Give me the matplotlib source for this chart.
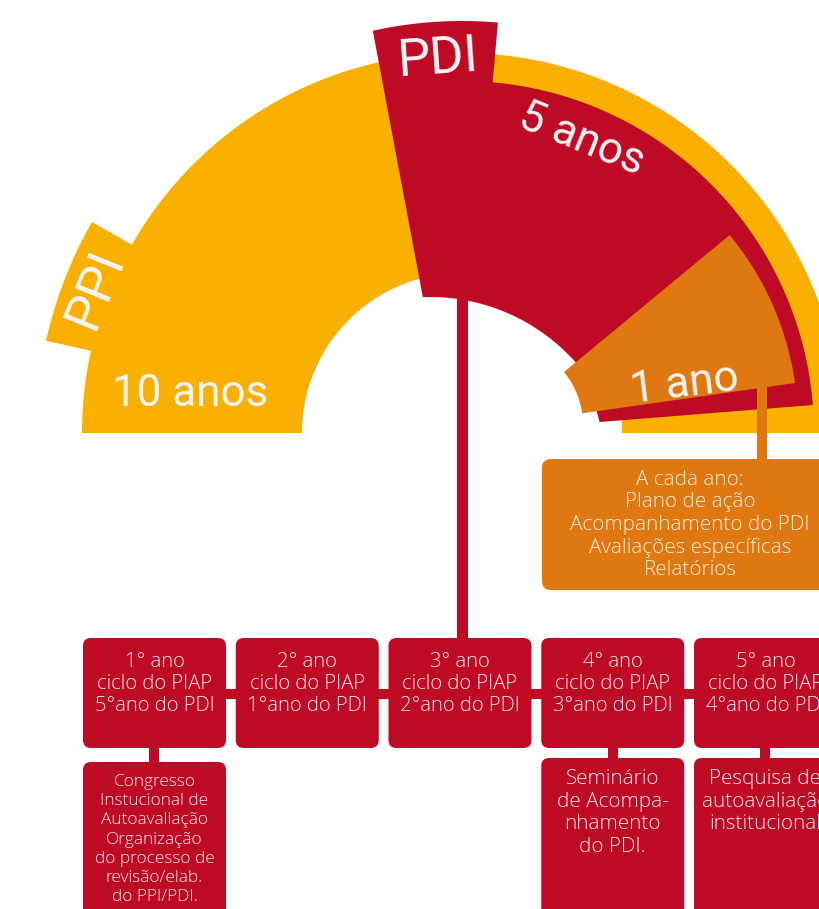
import numpy as np
import matplotlib
matplotlib.use("Agg")
import matplotlib.pyplot as plt
from matplotlib.patches import Polygon, FancyBboxPatch, Rectangle

# ---------------- data ----------------
tab_labels = ["PPI", "PDI"]
period_labels = ["10 anos", "5 anos", "1 ano"]
annual_lines = ["A cada ano:", "Plano de ação", "Acompanhamento do PDI",
                "Avaliações específicas", "Relatórios"]
year_boxes = [
    ["1° ano", "ciclo do PIAP", "5°ano do PDI"],
    ["2° ano", "ciclo do PIAP", "1°ano do PDI"],
    ["3° ano", "ciclo do PIAP", "2°ano do PDI"],
    ["4° ano", "ciclo do PIAP", "3°ano do PDI"],
    ["5° ano", "ciclo do PIAP", "4°ano do PDI"],
]
event_index = [0, 3, 4]
event_lines = [
    ["Congresso", "Instucional de", "Autoavaliação", "Organização",
     "do processo de", "revisão/elab.", "do PPI/PDI."],
    ["Seminário", "de Acompa-", "nhamento", "do PDI."],
    ["Pesquisa de", "autoavaliação", "institucional"],
]

# ---------------- style ----------------
YELLOW = "#F9B000"
RED = "#BF0A26"
ORANGE = "#DF7810"
BIGTXT = "#F4F4F4"
BOXTXT = "#FBEAEA"
ORTXT = "#FCEEDF"
BIG_FONT = ["Roboto", "DejaVu Sans"]
BOX_FONT = ["Open Sans", "DejaVu Sans"]

W, H = 820, 909
fig = plt.figure(figsize=(W / 100, H / 100), dpi=100)
ax = fig.add_axes([0, 0, 1, 1])
ax.set_xlim(0, W)
ax.set_ylim(H, 0)
ax.axis("off")


def arc(c, r, a0, a1, n=160):
    t = np.radians(np.linspace(a0, a1, n))
    return np.column_stack([c[0] + r * np.cos(t), c[1] - r * np.sin(t)])


def sector(c, r_in, r_out, a0, a1):
    return np.vstack([arc(c, r_out, a0, a1), arc(c, r_in, a1, a0)])


C = (462, 433)
# yellow PPI ring + tab
ax.add_patch(Polygon(sector(C, 160, 380, 0, 180), closed=True, fc=YELLOW, ec="none", zorder=1))
ax.add_patch(Polygon(sector(C, 370, 426, 150.3, 167.5), closed=True, fc=YELLOW, ec="none", zorder=1))

# red PDI wedge with tab
red_pts = np.vstack([
    arc((430, 492), 195, 36, 92.1),
    arc(C, 412, 102.5, 85),
    arc(C, 352, 85, 4.56),
    arc(C, 138, 4.56, 4.56, 2),
])
ax.add_patch(Polygon(red_pts, closed=True, fc=RED, ec="none", zorder=2))

# orange 1-year wedge
ax.add_patch(Polygon(sector((500, 425), 83, 298, 8.1, 39.6), closed=True, fc=ORANGE, ec="none", zorder=3))

# connectors
ax.add_patch(Rectangle((457, 296), 11, 344, fc=RED, ec="none", zorder=1.5))
ax.add_patch(Rectangle((757, 380), 10, 82, fc=ORANGE, ec="none", zorder=2.5))


def cap_text(x, y, s, px, rot, color=BIGTXT, fam=BIG_FONT, weight="normal"):
    # (x, y) is the centre of the cap-height band
    cap = 0.711 * px
    th = np.radians(rot)
    bx = x + cap / 2 * np.sin(th)
    by = y + cap / 2 * np.cos(th)
    ax.text(bx, by, s, fontsize=px * 0.72, rotation=rot, rotation_mode="anchor",
            ha="center", va="baseline", color=color, family=fam, weight=weight, zorder=6)


cap_text(92, 287, tab_labels[0], 52, 68)
cap_text(438, 55, tab_labels[1], 52, 4)
cap_text(190, 390, period_labels[0], 44, 0)
cap_text(583, 136, period_labels[1], 44, -22)
cap_text(684, 381, period_labels[2], 44, 7)

# orange annual box
ax.add_patch(FancyBboxPatch((542, 459), 296, 131, boxstyle="round,pad=0,rounding_size=9",
                            fc=ORANGE, ec="none", zorder=2))
for i, s in enumerate(annual_lines):
    ax.text(690, 480 + i * 22.5, s, fontsize=14.9, ha="center", va="center",
            color=ORTXT, family=BOX_FONT, weight="light", zorder=6)

# year boxes
x0, pitch, bw = 83, 152.75, 143
ax.add_patch(Rectangle((x0 + bw / 2, 689), 4 * pitch, 10, fc=RED, ec="none", zorder=1))
for i, lines in enumerate(year_boxes):
    bx = x0 + i * pitch
    ax.add_patch(FancyBboxPatch((bx, 638), bw, 110, boxstyle="round,pad=0,rounding_size=8",
                                fc=RED, ec="none", zorder=2))
    for j, s in enumerate(lines):
        ax.text(bx + bw / 2, 662 + j * 22, s, fontsize=14.6, ha="center", va="center",
                color=BOXTXT, family=BOX_FONT, weight="light", zorder=6)

for k, idx in enumerate(event_index):
    bx = x0 + idx * pitch
    top = 762 if idx == 0 else 758
    ax.add_patch(Rectangle((bx + bw / 2 - 5, 745), 10, top - 743, fc=RED, ec="none", zorder=1))
    ax.add_patch(FancyBboxPatch((bx, top), bw, 200, boxstyle="round,pad=0,rounding_size=8",
                                fc=RED, ec="none", zorder=2))
    lines = event_lines[k]
    if idx == 0:
        y0, sp, fs = 782, 19.2, 12.4
    else:
        y0, sp, fs = 779, 22.7, 14.9
    for j, s in enumerate(lines):
        ax.text(bx + bw / 2, y0 + j * sp, s, fontsize=fs, ha="center", va="center",
                color=BOXTXT, family=BOX_FONT, weight="light", zorder=6)

fig.savefig("out.png", dpi=100)
